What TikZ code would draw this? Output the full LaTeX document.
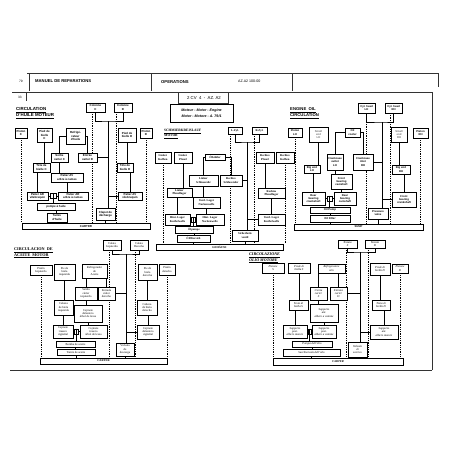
\documentclass[tikz,border=0pt]{standalone}
\usepackage{fontspec}
\setmainfont{Liberation Serif}
\setsansfont{Liberation Sans}
\usetikzlibrary{backgrounds}
\newcommand{\mybox}[6]{%
  \pgfmathsetmacro\mbw{#4-#2}\pgfmathsetmacro\mbh{#5-#3}%
  \pgfmathsetmacro\mbx{(#2+#4)/2}\pgfmathsetmacro\mby{(#3+#5)/2}%
  \node[bx,lang,minimum width=\mbw pt,minimum height=\mbh pt] (#1) at (\mbx,\mby) {#6};}
\newcommand{\oillinks}[1]{%
  \draw[ln] (#1vlv.north) -- (#1vlv.south);
  \begin{pgfonlayer}{background}
  \draw[ln] (#1colC.south) |- (#1jt) -| (#1colD.south);
  \draw[ln] (#1jt) -- (#1jt |- #1clapet.north);
  \draw[ln] (#1pavv.west) -- (#1pavv.west -| #1jt);
  \draw[ln] (#1entD.east) -- (#1entD.east -| #1jt);
  \draw[ln] (#1piedC.south) -- (#1piedC.south |- #1teteC.north);
  \draw[ln] (#1piedD.south) -- (#1piedD.south |- #1teteD.north);
  \draw[ln] (#1parv.north) -- (#1parv.north |- #1teteC.south);
  \draw[ln] (#1pavv.north) -- (#1pavv.north |- #1teteD.south);
  \draw[ln] (#1refr.west) -| (#1sortC.north);
  \draw[ln] (#1refr.east) -| (#1entD.north);
  \draw[ln] (#1sortC.south) -- (#1sortC.south |- #1pavc.north);
  \draw[ln] (#1pavc.south) -- (#1pavc.south |- #1parc.north);
  \draw[ln] (#1parv.east) -- (#1vlv.west);
  \draw[ln] (#1vlv.east) -- (#1parc.west);
  \draw[ln] (#1vlv.south) -- (#1vlv.south |- #1pompe.north);
  \draw[ln] (#1pompe.south) -- (#1pompe.south |- #1tamis.north);
  \draw[ln] (#1tamis.south) -- (#1tamis.south |- #1carter.north);
  \draw[ln] (#1clapet.south) -- (#1clapet.south |- #1carter.north);
  \draw[dl] (#1pisC.south) -- (#1pisC.south |- #1carter.north);
  \draw[dl] (#1pisD.south) -- (#1pisD.south |- #1carter.north);
  \draw[dl] (#1dl) -- (#1dl |- #1carter.north);
  \draw[dl] (#1dr) -- (#1dr |- #1carter.north);
  \end{pgfonlayer}}
\begin{document}
\begin{tikzpicture}[x=1pt,y=-1pt,
  bx/.style={draw,line width=0.55pt,fill=white,inner sep=0.2pt,align=center},
  ln/.style={line width=0.55pt},
  dl/.style={line width=0.5pt,dash pattern=on 1pt off 0.8pt},
  frame/.style={line width=0.55pt,black!80},
  ttl/.style={anchor=north west,align=left,inner sep=0pt},
  lang/.style={font=\sffamily\bfseries\fontsize{2.9}{3.2}\selectfont}]
\useasboundingbox (0,0) rectangle (452,452);
\begin{pgfonlayer}{background}
\fill[white] (0,0) rectangle (452,452);
\end{pgfonlayer}

% ---------- page frame and header ----------
\draw[frame] (27,73) -- (438,73) -- (438,87);
\draw[frame] (29,73) -- (29,91);
\draw[frame] (151,73) -- (151,91);
\draw[frame] (292,73) -- (292,91);
\draw[frame] (12,92) -- (432,92) -- (432,370);
\draw[frame] (10,370) -- (432,370);
\draw[frame] (26,92) -- (26,101);
\node[anchor=west,inner sep=0pt,font=\sffamily\fontsize{3.2}{3.6}\selectfont] (pg) at (19,81) {79};
\node[anchor=west,inner sep=0pt,font=\sffamily\bfseries\fontsize{4.2}{5}\selectfont] (hm) at (35,81.5) {MANUEL DE REPARATIONS};
\node[anchor=west,inner sep=0pt,font=\sffamily\bfseries\fontsize{4.2}{5}\selectfont] (ho) at (161,82) {OPERATIONS};
\node[anchor=west,inner sep=0pt,font=\sffamily\fontsize{3.6}{4}\selectfont] (hz) at (238,81) {AZ.A2 100-00};
\node[anchor=west,inner sep=0pt,font=\sffamily\fontsize{3.2}{3.6}\selectfont] (n33) at (18,97.5) {33};
\draw[frame] (178,92) -- (178,103) -- (228,103) -- (228,92);
\node[inner sep=0pt,font=\sffamily\fontsize{4.3}{5}\selectfont] (cv) at (204,98.5) {2 CV\ \ 4\ \ -\ \ AZ. A2};
\node[draw,line width=0.55pt,minimum width=63pt,minimum height=18pt,inner sep=0pt,align=center,
  font=\sffamily\bfseries\itshape\fontsize{3.6}{6}\selectfont] (mot) at (201.5,113) {Moteur - Motor - Engine\\Motor - Motore - A. 79/1};

% ---------- top left : French ----------
\tikzset{lang/.style={font=\sffamily\bfseries\fontsize{2.9}{3.2}\selectfont}}
\node[ttl,font=\sffamily\bfseries\fontsize{4.4}{5.8}\selectfont] (ta) at (16,107.5) {\underline{CIRCULATION}\\\underline{D'HUILE MOTEUR}};
\mybox{acolC}{86}{103}{105}{112}{Colonne\\C}
\mybox{acolD}{114}{103}{132}{112}{Colonne\\D}
\mybox{apisC}{15}{128}{27}{138}{Piston\\C}
\mybox{apiedC}{37}{128}{52}{142}{Pied de\\bielle\\C}
\mybox{arefr}{66}{128}{85}{144}{Refrigé-\\rateur\\d'huile}
\mybox{apiedD}{118}{128}{136}{142}{Pied de\\bielle D}
\mybox{apisD}{140}{128}{152}{138}{Piston\\D}
\mybox{asortC}{51}{153}{68}{162}{Sortie\\carter C}
\mybox{aentD}{78}{153}{97}{162}{Entrée\\carter D}
\mybox{ateteC}{33}{163}{50}{172}{Tête de\\bielle C}
\mybox{ateteD}{117}{163}{133}{172}{Tête de\\bielle D}
\mybox{apavc}{51}{173}{83}{182}{Palier AV\\arbre à cames}
\mybox{aparv}{27}{192}{48}{200}{Palier AR\\vilebrequin}
\mybox{aparc}{58}{192}{88}{200}{Palier AR\\arbre à cames}
\mybox{apavv}{118}{192}{142}{200}{Palier AV\\vilebrequin}
\mybox{apompe}{37}{203}{75}{210}{pompe à huile}
\mybox{atamis}{47}{213}{67}{222}{Tamis\\d'huile}
\mybox{aclapet}{96}{208}{115}{220}{Clapet de\\décharge}
\mybox{acarter}{22}{223}{150}{229}{CARTER}
\mybox{avlv}{50}{193.5}{56}{198.5}{}
\coordinate (ajt) at (108,121);
\coordinate (adl) at (92,112);
\coordinate (adr) at (116,112);
\oillinks{a}

% ---------- top middle : German ----------
\tikzset{lang/.style={font=\rmfamily\bfseries\fontsize{2.9}{3.2}\selectfont}}
\node[ttl,font=\rmfamily\bfseries\fontsize{3.5}{4.3}\selectfont] (tb) at (164,129) {\underline{SCHMIERKREISLAUF}\\\underline{MOTOR}};
\mybox{bcolC}{228}{127}{242}{134}{L.Zyl.}
\mybox{bcolD}{252}{127}{267}{134}{R.Zyl.}
\mybox{bpisC}{155}{152}{171}{163}{Linker\\Kolben}
\mybox{bpiedC}{174}{152}{192}{163}{Linker\\Pleuel}
\mybox{brefr}{205}{154}{225}{160}{Ölkühler}
\mybox{bpiedD}{256}{152}{274}{163}{Rechtes\\Pleuel}
\mybox{bpisD}{276}{152}{294}{163}{Rechtes\\Kolben}
\mybox{bsortC}{189}{175}{218}{186}{Linker\\Schlussrohr}
\mybox{bentD}{220}{175}{242}{186}{Rechtes\\Schlussrohr}
\mybox{bteteC}{167}{188}{192}{197}{Linker\\Pleuellager}
\mybox{bteteD}{258}{188}{285}{198}{Rechtes\\Pleuellager}
\mybox{bpavc}{193}{197}{220}{208}{Vord. Lager\\Nockenwelle}
\mybox{bparv}{165}{214}{190}{225}{Hint. Lager\\Kurbelwelle}
\mybox{bparc}{196}{214}{224}{225}{Hint. Lager\\Nockenwelle}
\mybox{bpavv}{258}{214}{285}{225}{Vord. Lager\\Kurbelwelle}
\mybox{bpompe}{175}{226}{213}{233}{Ölpumpe}
\mybox{btamis}{177}{235}{210}{242}{Ölfiltersieb}
\mybox{bclapet}{232}{230}{258}{241}{Sicherheits\\ventil}
\mybox{bcarter}{156}{244}{283}{250}{GEHÄUSE}
\mybox{bvlv}{191}{217}{195}{222}{}
\coordinate (bjt) at (247,142);
\coordinate (bdl) at (230,134);
\coordinate (bdr) at (254,134);
\oillinks{b}

% ---------- top right : English ----------
\tikzset{lang/.style={font=\sffamily\bfseries\fontsize{2.75}{3.1}\selectfont}}
\node[ttl,font=\sffamily\bfseries\fontsize{4.2}{5.8}\selectfont] (tc) at (290,107.5) {\underline{ENGINE\ \ OIL}\\\underline{CIRCULATION}};
\mybox{ccolC}{358}{103}{375}{113}{Cyl. head\\LH}
\mybox{ccolD}{385}{103}{402}{113}{Cyl. head\\RH}
\mybox{cpisC}{288}{128}{302}{137}{Piston\\LH}
\mybox{cpiedC}{309}{127}{328}{142}{\color{black!55}Small\\\color{black!55}end\\\color{black!55}LH}
\mybox{crefr}{345}{128}{360}{137}{Oil\\cooler}
\mybox{cpiedD}{391}{127}{407}{142}{\color{black!55}Small\\\color{black!55}end\\\color{black!55}RH}
\mybox{cpisD}{413}{128}{428}{138}{Piston\\RH}
\mybox{csortC}{327}{154}{343}{170}{Crankcase\\outlet\\LH}
\mybox{centD}{353}{154}{373}{170}{Crankcase\\inlet\\RH}
\mybox{cteteC}{304}{165}{320}{173}{Big end\\LH}
\mybox{cteteD}{392}{165}{410}{174}{Big end\\RH}
\mybox{cpavc}{331}{174}{352}{189}{Front\\bearing\\camshaft}
\mybox{cparv}{302}{192}{325}{205}{Rear\\bearing\\crankshaft}
\mybox{cparc}{334}{192}{356}{205}{Rear\\bearing\\camshaft}
\mybox{cpavv}{392}{192}{416}{207}{Front\\bearing\\crankshaft}
\mybox{cpompe}{310}{207}{350}{213}{Oil Pump}
\mybox{ctamis}{310}{215}{350}{222}{Oil Filter}
\mybox{cclapet}{368}{208}{388}{219}{Pressure\\valve}
\mybox{ccarter}{294}{224}{423}{230}{SUMP}
\mybox{cvlv}{327}{196}{332}{201}{}
\coordinate (cjt) at (382,122);
\coordinate (cdl) at (366,113);
\coordinate (cdr) at (390,113);
\oillinks{c}

% ---------- bottom left : Spanish ----------
\tikzset{lang/.style={font=\rmfamily\fontsize{2.95}{3.25}\selectfont}}
\node[ttl,font=\rmfamily\bfseries\fontsize{4.2}{5.6}\selectfont] (td) at (14,247.5) {\underline{CIRCULACION\ \ DE}\\\underline{ACEITE\ \ MOTOR}};
\mybox{dcolC}{103}{240}{121}{250}{Culata\\Izquierda}
\mybox{dcolD}{130}{240}{148}{250}{Culata\\Derecha}
\mybox{dpisC}{30}{265}{52}{275}{Pistón\\Izquierdo}
\mybox{dpiedC}{54}{264}{75}{280}{Pie de\\biela\\izquierda}
\mybox{drefr}{82}{264}{107}{278}{Refrigerador\\de\\Aceite}
\mybox{dpiedD}{138}{264}{157}{280}{Pie de\\biela\\derecha}
\mybox{dpisD}{159}{264}{175}{275}{Pistón\\derecho}
\mybox{dsortC}{75}{287}{97}{300}{Salida\\cárter\\izquierdo}
\mybox{dentD}{98}{287}{115}{300}{Entrada\\cárter\\derecho}
\mybox{dteteC}{54}{300}{73}{315}{Cabeza\\de biela\\izquierda}
\mybox{dteteD}{137}{300}{157}{315}{Cabeza\\de biela\\derecha}
\mybox{dpavc}{74}{305}{102}{322}{Cojinete\\delantero\\árbol de levas}
\mybox{dparv}{53}{325}{73}{338}{Cojinete\\trasero\\cigüeñal}
\mybox{dparc}{80}{325}{107}{338}{Cojinete\\trasero\\árbol de levas}
\mybox{dpavv}{137}{325}{159}{339}{Cojinete\\delantero\\cigüeñal}
\mybox{dpompe}{56}{341}{95}{347}{Bomba de aceite}
\mybox{dtamis}{57}{349}{95}{355}{Tamiz de aceite}
\mybox{dclapet}{116}{343}{134}{356}{Válvula\\de\\descarga}
\mybox{dcarter}{40}{358}{167}{364}{\bfseries CARTER}
\mybox{dvlv}{74.5}{329}{78.5}{334}{}
\coordinate (djt) at (126,254);
\coordinate (ddl) at (109,250);
\coordinate (ddr) at (135.5,250);
\oillinks{d}

% ---------- bottom right : Italian ----------
\tikzset{lang/.style={font=\rmfamily\itshape\fontsize{2.95}{3.25}\selectfont}}
\node[ttl,font=\rmfamily\bfseries\itshape\fontsize{4.1}{5.6}\selectfont] (te) at (249,252.5) {\underline{CIRCOLAZIONE}\\\underline{OLIO MOTORE}};
\mybox{ecolC}{338}{240}{357}{248}{Testata\\S}
\mybox{ecolD}{365}{240}{385}{248}{Testata\\D}
\mybox{episC}{262}{263}{284}{273}{Pistone\\S}
\mybox{epiedC}{288}{263}{310}{273}{Piede di\\biella S}
\mybox{erefr}{318}{264}{345}{273}{Refrigeratore\\olio}
\mybox{epiedD}{370}{263}{390}{275}{Piede di\\biella D}
\mybox{episD}{392}{264}{408}{273}{Pistone\\D}
\mybox{esortC}{310}{287}{327}{300}{Uscita\\carter\\S}
\mybox{eentD}{330}{287}{347}{300}{Entrata\\carter\\D}
\mybox{eteteC}{289}{300}{308}{310}{Testa di\\biella S}
\mybox{eteteD}{372}{300}{390}{310}{Testa di\\biella D}
\mybox{epavc}{310}{304}{338}{322}{Supporto\\ant.\\albero a camme}
\mybox{eparv}{283}{325}{307}{338}{Supporto\\post.\\albero motore}
\mybox{eparc}{312}{325}{336}{338}{Supporto\\post.\\albero a camme}
\mybox{epavv}{370}{325}{398}{339}{Supporto\\ant.\\albero motore}
\mybox{epompe}{292}{341}{332}{347}{Pompa dell'olio}
\mybox{etamis}{283}{349}{340}{356}{Succhieruola dell'olio}
\mybox{eclapet}{348}{342}{367}{357}{Valvola\\di\\scarico}
\mybox{ecarter}{273}{358}{403}{365}{\bfseries CARTER}
\mybox{evlv}{308}{329}{311}{334}{}
\coordinate (ejt) at (360,252);
\coordinate (edl) at (346,248);
\coordinate (edr) at (368.5,248);
\oillinks{e}
\end{tikzpicture}
\end{document}
